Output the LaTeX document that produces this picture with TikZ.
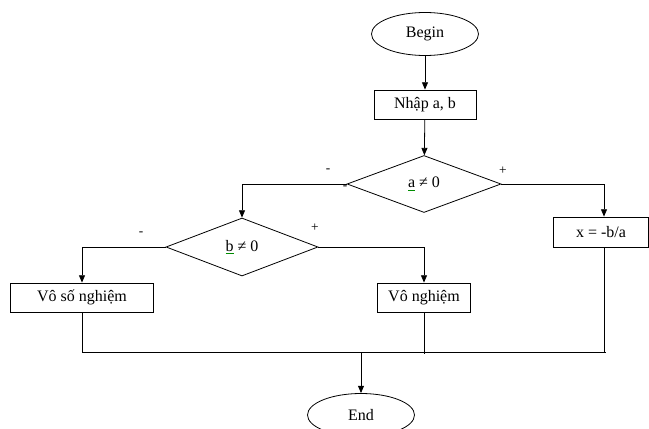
\documentclass[tikz,border=0pt]{standalone}
\usepackage{fontspec}
\setmainfont{Liberation Serif}
\usetikzlibrary{shapes.geometric,arrows.meta}
\newcommand{\spellmark}[1]{{\color{green!55!black}\underline{\color{black}#1}}}
\begin{document}
\begin{tikzpicture}[x=0.75pt,y=-0.75pt,
  every node/.style={font=\fontsize{12}{14}\selectfont, inner sep=0pt, text=black},
  term/.style={draw, ellipse, line width=0.6pt, minimum width=80.25pt, minimum height=32.25pt},
  proc/.style={draw, rectangle, line width=0.6pt, minimum height=21.75pt},
  cond/.style={draw, diamond, line width=0.6pt},
  conn/.style={draw, line width=0.6pt},
  arr/.style={conn, -{Triangle[length=5.5pt,width=4.5pt]}},
  sign/.style={font=\fontsize{10}{12}\selectfont}]
\useasboundingbox (0,0) rectangle (649,428);
\node[term] (begin) at (425,34) {Begin};
\node[proc, minimum width=76.5pt] (nhap) at (425,104.5) {Nhập a, b};
\node[cond, minimum width=115.5pt, minimum height=42.75pt] (a) at (424,184) {\spellmark{a} ≠ 0};
\node[cond, minimum width=114pt, minimum height=43.5pt] (b) at (242,247) {\spellmark{b} ≠ 0};
\node[proc, minimum width=71.25pt, minimum height=22.5pt] (x) at (601,232) {x = -b/a};
\node[proc, minimum width=107.25pt] (vsn) at (82,297.5) {Vô số nghiệm};
\node[proc, minimum width=69.75pt] (vn) at (424,297.5) {Vô nghiệm};
\node[term] (end) at (361,415) {End};
\coordinate (j1) at (82,352);
\coordinate (j2) at (424,352);
\coordinate (j3) at (604,352);
\coordinate (jm) at (361,352);
\draw[arr] (begin) -- (nhap);
\draw[arr] (nhap) -- (a);
\draw[arr] (a.west) -| (b.north);
\draw[arr] (a.east) -| ([xshift=2.25pt]x.north);
\draw[arr] (b.west) -| (vsn.north);
\draw[arr] (b.east) -| (vn.north);
\draw[conn] (vsn.south) -- (j1);
\draw[conn] (vn.south) -- ([yshift=-1.5pt]j2);
\draw[conn] ([xshift=2.25pt]x.south) -- (j3);
\draw[conn] (j1) -- ([xshift=1.5pt]j3);
\draw[arr] (jm) -- (end);
\node[sign] (m1) at (328,171) {-};
\node[sign] (m2) at (345,188) {-};
\node[sign] (p1) at (503,171) {+};
\node[sign] (m3) at (141,234) {-};
\node[sign] (p2) at (315,228) {+};
\end{tikzpicture}
\end{document}
